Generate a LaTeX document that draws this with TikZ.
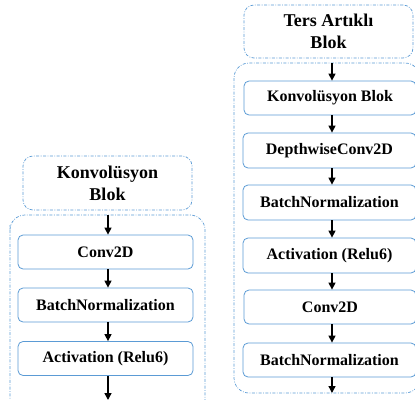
\documentclass[tikz,border=0pt]{standalone}
\usepackage{fontspec}
\setmainfont{Liberation Serif}
\usetikzlibrary{arrows.meta}
\definecolor{bl}{RGB}{91,155,213}
\tikzset{
  layer/.style={draw=bl, line width=0.8pt, rounded corners=5pt, fill=white, font=\fontsize{16}{18}\selectfont\bfseries, inner sep=0pt},
  title/.style={draw=bl, line width=0.7pt, rounded corners=10pt, dash pattern=on 3pt off 1.5pt on 0.8pt off 1.5pt, fill=white, font=\fontsize{18}{22}\selectfont\bfseries, align=center, inner sep=0pt},
  cont/.style={draw=bl, line width=0.7pt, rounded corners=15pt, dash pattern=on 3pt off 1.5pt on 0.8pt off 1.5pt},
  arr/.style={-{Triangle[length=7pt,width=7pt]}, line width=1.4pt, black}
}
\begin{document}
\begin{tikzpicture}[x=1pt,y=-1pt]
\useasboundingbox (0,0) rectangle (415,399);
% left column
\node[title, minimum width=169pt, minimum height=54pt] (lt) at (107.5,183) {Konvolüsyon\\Blok};
\draw[cont] (10,410) -- (10,240) [rounded corners=15pt] -- (10,215) -- (205,215) -- (205,410);
\coordinate (lctop) at (108,215);
\node[layer, minimum width=175pt, minimum height=34pt] (l1) at (105.5,252) {Conv2D};
\node[layer, minimum width=175pt, minimum height=34pt] (l2) at (105.5,305) {BatchNormalization};
\node[layer, minimum width=175pt, minimum height=34pt] (l3) at (105.5,358.5) {Activation (Relu6)};
\coordinate (lend) at (108,400);
\draw[arr] (lctop) -- (l1.north -| lctop);
\draw[arr] (l1.south -| lctop) -- (l2.north -| lctop);
\draw[arr] (l2.south -| lctop) -- (l3.north -| lctop);
\draw[arr] (l3.south -| lctop) -- (lend);
% right column
\node[title, minimum width=169pt, minimum height=53pt] (rt) at (328.5,31.5) {Ters Artıklı\\Blok};
\draw[cont] (234,63) rectangle (420,393);
\coordinate (rctop) at (332,63);
\coordinate (rcbot) at (332,393);
\node[layer, minimum width=172pt, minimum height=34pt] (r1) at (330,98) {Konvolüsyon Blok};
\node[layer, minimum width=173pt, minimum height=35pt] (r2) at (329.5,150.5) {DepthwiseConv2D};
\node[layer, minimum width=173pt, minimum height=35pt] (r3) at (329.5,202.5) {BatchNormalization};
\node[layer, minimum width=173pt, minimum height=35pt] (r4) at (329.5,255.5) {Activation (Relu6)};
\node[layer, minimum width=172pt, minimum height=34pt] (r5) at (330,307) {Conv2D};
\node[layer, minimum width=173pt, minimum height=34pt] (r6) at (329.5,360) {BatchNormalization};
\draw[arr] (rctop) -- (r1.north -| rctop);
\draw[arr] (r1.south -| rctop) -- (r2.north -| rctop);
\draw[arr] (r2.south -| rctop) -- (r3.north -| rctop);
\draw[arr] (r3.south -| rctop) -- (r4.north -| rctop);
\draw[arr] (r4.south -| rctop) -- (r5.north -| rctop);
\draw[arr] (r5.south -| rctop) -- (r6.north -| rctop);
\draw[arr] (r6.south -| rctop) -- (rcbot);
\end{tikzpicture}
\end{document}
